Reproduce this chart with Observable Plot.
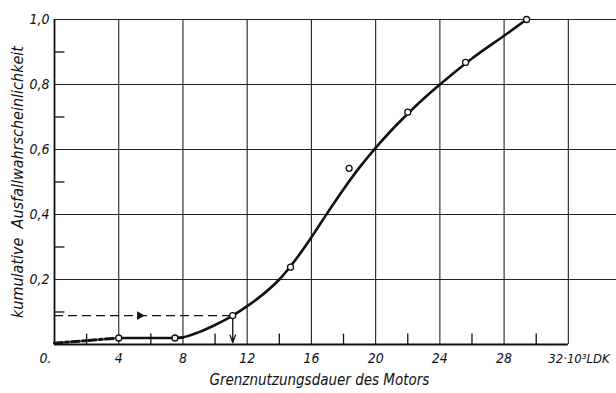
<!DOCTYPE html>
<html>
<head>
<meta charset="utf-8">
<script src="https://cdn.jsdelivr.net/npm/d3@7"></script>
<script src="https://cdn.jsdelivr.net/npm/@observablehq/plot@0.6"></script>
<style>
  html, body { margin: 0; padding: 0; background: #fff; }
  #chart svg { display: block; }
</style>
</head>
<body>
<div id="chart"></div>
<script>
// ---- data ----
const flatX = [4, 7.5, 8];
const flatY = [0.02, 0.02, 0.021];
const curveX = [7.5, 8, 9, 10, 11.1, 12, 13, 14, 15, 16, 17, 18, 19, 20, 21, 22, 23, 24, 26, 28, 29.4];
const curveY = [0.02, 0.022, 0.038, 0.06, 0.089, 0.118, 0.155, 0.2, 0.26, 0.33, 0.405, 0.478, 0.545, 0.605, 0.66, 0.71, 0.757, 0.8, 0.88, 0.95, 1.0];
const obsX = [4, 7.5, 11.1, 14.7, 18.35, 22.0, 25.6, 29.4];
const obsY = [0.02, 0.02, 0.089, 0.238, 0.542, 0.715, 0.868, 1.0];
const startX = [0, 4];
const startY = [0.004, 0.02];
const readX = 11.1;   // read-off value (10^3 LDK)
const readY = 0.089;  // read-off probability
const xTicks = [0, 4, 8, 12, 16, 20, 24, 28, 32];
const xTickLabels = ["0.", "4", "8", "12", "16", "20", "24", "28", "32·10³LDK"];
const xMinor = [2, 6, 10, 14, 18, 22, 26, 30];
const yTicks = [0.2, 0.4, 0.6, 0.8, 1.0];
const yTickLabels = ["0,2", "0,4", "0,6", "0,8", "1,0"];
const yMinor = [0.1, 0.3, 0.5, 0.7, 0.9];
const xTitle = "Grenznutzungsdauer des Motors";
const yTitle = "kumulative  Ausfallwahrscheinlichkeit";

const flat = flatX.map((x, i) => ({x, y: flatY[i]}));
const curve = curveX.map((x, i) => ({x, y: curveY[i]}));
const obs = obsX.map((x, i) => ({x, y: obsY[i]}));
const start = startX.map((x, i) => ({x, y: startY[i]}));
const xt = xTicks.map((x, i) => ({x, label: xTickLabels[i]}));
const yt = yTicks.map((y, i) => ({y, label: yTickLabels[i]}));

const font = "'DejaVu Sans Condensed', 'DejaVu Sans', sans-serif";

const chart = Plot.plot({
  width: 616,
  height: 393,
  marginLeft: 54,
  marginRight: 0,
  marginTop: 19,
  marginBottom: 49,
  x: {domain: [0, 35], axis: null},
  y: {domain: [0, 1], axis: null},
  style: {fontFamily: font, background: "#fff"},
  marks: [
    // grid
    Plot.ruleX(xTicks.filter(d => d > 0), {y1: 0, y2: 1, stroke: "#222", strokeWidth: 1.1}),
    Plot.ruleY(yTicks, {x1: 0, x2: 35, stroke: "#222", strokeWidth: 1.1}),
    // frame: left and bottom
    Plot.ruleX([0], {y1: 0, y2: 1, stroke: "#111", strokeWidth: 1.8}),
    Plot.ruleY([0], {x1: 0, x2: 32, stroke: "#111", strokeWidth: 2.2}),
    // minor ticks
    Plot.ruleX(xMinor, {y1: 0, y2: 0.032, stroke: "#111", strokeWidth: 1.3}),
    Plot.ruleY(yMinor, {x1: 0, x2: 0.65, stroke: "#111", strokeWidth: 1.3}),
    // read-off construction
    Plot.ruleY([readY], {x1: 0, x2: readX, stroke: "#111", strokeWidth: 1.4, strokeDasharray: "9,5"}),
    Plot.dot([{x: 5.3, y: readY}], {x: "x", y: "y", symbol: "triangle", rotate: 90, r: 3.2, fill: "#111", stroke: "none"}),
    Plot.arrow([{x: readX, y1: readY, y2: 0.006}], {x1: "x", x2: "x", y1: "y1", y2: "y2", stroke: "#111", strokeWidth: 1.3, headLength: 9, headAngle: 40}),
    // dashed start segment
    Plot.line(start, {x: "x", y: "y", stroke: "#111", strokeWidth: 3, strokeDasharray: "8,3,3,3"}),
    // fitted curve
    Plot.line(flat, {x: "x", y: "y", stroke: "#111", strokeWidth: 2.6}),
    Plot.line(curve, {x: "x", y: "y", curve: "catmull-rom", stroke: "#111", strokeWidth: 2.6}),
    // observed points
    Plot.dot(obs, {x: "x", y: "y", r: 3, fill: "#fff", stroke: "#111", strokeWidth: 1.3}),
    // tick labels
    Plot.text(xt.filter(d => d.x > 0 && d.x < 32), {x: "x", y: 0, text: "label", dy: 14, fontSize: 14, fontStyle: "italic", fill: "#111"}),
    Plot.text(xt.filter(d => d.x === 0), {x: "x", y: 0, text: "label", dy: 14, dx: -9, fontSize: 14, fontStyle: "italic", fill: "#111"}),
    Plot.text(xt.filter(d => d.x === 32), {x: "x", y: 0, text: "label", dy: 14, dx: -20, textAnchor: "start", fontSize: 13, fontStyle: "italic", fill: "#111"}),
    Plot.text(yt, {x: 0, y: "y", text: "label", dx: -5, textAnchor: "end", fontSize: 14, fontStyle: "italic", fill: "#111"}),
    // axis titles
    Plot.text([xTitle], {x: 16.5, y: 0, text: d => d, dy: 36, fontSize: 15, fontStyle: "italic", fill: "#111"}),
    Plot.text([yTitle], {x: 0, y: 0.5, text: d => d, dx: -37, rotate: -90, fontSize: 16, fontStyle: "italic", fill: "#111"})
  ]
});
document.getElementById("chart").appendChild(chart);
</script>
</body>
</html>
